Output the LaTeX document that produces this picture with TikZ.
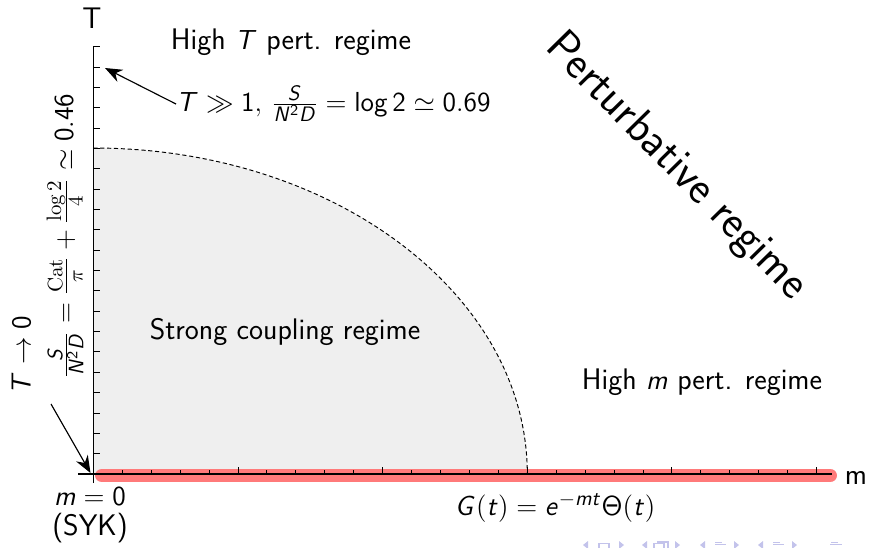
\documentclass[tikz,border=0pt]{standalone}
\usetikzlibrary{arrows.meta}
\renewcommand\familydefault{\sfdefault}
\DeclareMathAlphabet{\mathsfit}{OT1}{cmss}{m}{sl}
\newcommand\sv[1]{\mathsfit{#1}}
\newcommand\slog{\mathop{\mathsf{log}}\nolimits}
\definecolor{regred}{RGB}{255,122,122}
\definecolor{navcol}{RGB}{195,195,235}
\definecolor{fillgray}{RGB}{239,239,239}
\begin{document}
\begin{tikzpicture}[x=0.18412mm,y=0.18412mm,
  lbl/.style={font=\fontsize{15.6}{18}\selectfont, inner sep=0pt},
  axisline/.style={line width=0.6pt},
  tickst/.style={line width=0.45pt},
  arr/.style={line width=0.6pt,-{Stealth[length=9pt,width=7pt]}},
  navsym/.style={fill=navcol, draw=none}]
\useasboundingbox (0,-547) rectangle (869,0);

% strong coupling region
\fill[fillgray] (93.3,-474) -- (93.3,-148) arc[start angle=90, end angle=0, x radius=434, y radius=326] -- cycle;
% red line along the m axis
\draw[regred, line width=7.3pt, line cap=round] (102,-475.5) -- (830,-475.5);
% boundary
\draw[dash pattern=on 2.2pt off 1.4pt, line width=0.5pt] (93.3,-148) arc[start angle=90, end angle=0, x radius=434, y radius=326];

% axes
\coordinate (O) at (93.3,-474);
\coordinate (xend) at (832,-474);
\coordinate (xstart) at (78,-474);
\coordinate (yend) at (93.3,-46.65);
\coordinate (ystart) at (93.3,-483);
\draw[axisline] (xstart) -- (xend);
\draw[axisline] (ystart) -- (yend);
\foreach \k in {1,...,25} \draw[tickst] ({93.3+28.93*\k},-474) -- ++(0,4);
\foreach \k in {5,10,...,25} \draw[tickst] ({93.3+28.93*\k},-474) -- ++(0,7.5);
\foreach \k in {1,...,21} \draw[tickst] (93.3,{-474+20.35*\k}) -- ++(7,0);

\node[lbl] (Tlab) at (92,-18) {T};
\node[lbl] (mlab) at (856,-478) {m};

% labels
\node[lbl] (hiT) at (291,-42) {High \(\sv{T}\) pert. regime};
\node[lbl, anchor=west] (hiTval) at (176,-104) {\(\sv{T}\gg \mathsf{1},\,\frac{\sv{S}}{\sv{N}^{\mathsf{2}}\sv{D}}=\slog\mathsf{2}\simeq\mathsf{0.69}\)};
\coordinate (tipA) at (105,-68);
\draw[arr] (hiTval.west) -- (tipA);

\node[lbl] (strong) at (285,-332) {Strong coupling regime};
\node[lbl] (him) at (702,-382) {High \(\sv{m}\) pert. regime};
\node[font=\fontsize{24}{28}\selectfont, inner sep=0pt, rotate=-45.5] (pert) at (676,-167) {Perturbative regime};

\node[lbl, rotate=90] (Tzero) at (21,-355) {\(\sv{T}\to\mathsf{0}\)};
\node[lbl, rotate=90] (Szero) at (65,-236) {\(\frac{\sv{S}}{\sv{N}^{\mathsf{2}}\sv{D}}=\frac{\mathrm{Cat}}{\pi}+\frac{\log 2}{4}\simeq\mathsf{0.46}\)};
\coordinate (tailB) at (51,-404);
\coordinate (tipB) at (90.5,-473);
\draw[arr] (tailB) -- (tipB);

\node[lbl] (mzero) at (90,-496) {\(\sv{m}=\mathsf{0}\)};
\node[lbl] (syk) at (90,-528) {(SYK)};
\node[lbl] (Gt) at (555,-508) {\(\sv{G}(\sv{t})=\sv{e}^{-\sv{mt}}\mathsf{\Theta}(\sv{t})\)};

% navigation symbols (cut off at the bottom edge)
\foreach \xx in {585,644,702,760} \fill[navsym] (\xx+3,-541) -- (\xx-2,-545) -- (\xx+3,-549) -- cycle;
\foreach \xx in {622,678,737,795} \fill[navsym] (\xx-3,-541) -- (\xx+2,-545) -- (\xx-3,-549) -- cycle;
\draw[navcol, line width=0.8pt] (599,-550) rectangle (609,-543.5);
\draw[navcol, line width=0.8pt] (654,-550) rectangle (664,-543.5);
\draw[navcol, line width=0.8pt] (657,-542) -- (668,-542) -- (668,-548);
\fill[navsym] (715,-541.5) rectangle (722,-542.5);
\fill[navsym] (715,-543.5) rectangle (726,-545);
\fill[navsym] (773,-541.5) rectangle (780,-542.5);
\fill[navsym] (773,-543.5) rectangle (784,-545);
\fill[navsym] (831,-541.5) rectangle (838,-542.5);
\fill[navsym] (830,-543.5) rectangle (842,-545);
\end{tikzpicture}
\end{document}
